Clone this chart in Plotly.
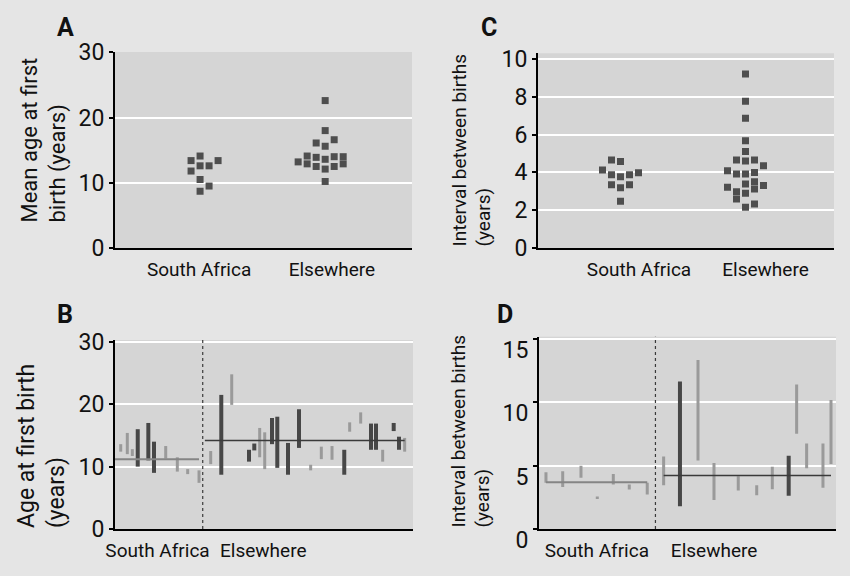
import plotly.graph_objects as go

W, H = 850, 576
PAGE_BG = "#e5e5e5"
PLOT_BG = "#d5d5d5"
DARK = "#474747"
LIGHT = "#9a9a9a"
MARK = "#4e4e4e"
FONT = "Roboto, Liberation Sans, Arial, sans-serif"

# ---------------- data ----------------
categories = ["South Africa", "Elsewhere"]

# Panel A: mean age at first birth (years), swarm columns
a_sa_values = [14.1, 13.4, 13.4, 12.6, 12.6, 11.8, 10.5, 9.5, 8.7]
a_sa_cols = [0, -1, 2, 0, 1, -1, 0, 1, 0]
a_else_values = [22.6, 18.0, 16.1, 16.6, 15.6, 13.2, 14.1, 12.9, 13.9, 12.5,
                 13.6, 12.1, 14.0, 12.5, 14.0, 12.9, 10.2]
a_else_cols = [0, 0, -1, 1, 0, -3, -2, -2, -1, -1, 0, 0, 1, 1, 2, 2, 0]

# Panel C: interval between births (years)
c_sa_values = [4.66, 4.57, 4.13, 3.88, 3.77, 3.88, 3.98, 3.35, 3.19, 3.35, 2.47]
c_sa_cols = [-1, 0, -2, -1, 0, 1, 2, -1, 0, 1, 0]
c_else_values = [9.2, 7.76, 6.86, 5.68, 5.10, 4.66, 4.60, 4.66, 4.35, 4.09,
                 3.92, 3.92, 4.0, 3.51, 3.39, 3.30, 3.21, 2.98, 2.89, 3.12,
                 2.59, 2.33, 2.15]
c_else_cols = [0, 0, 0, 0, 0, -1, 0, 1, 2, -2, -1, 0, 1, 1, 0, 2, -2, -1, 0, 1,
               -1, 1, 0]

# Panel B: age at first birth ranges per study
b_sa_study = [0.0, 1.23, 2.17, 3.18, 5.16, 6.22, 8.41, 10.58, 12.52, 14.64]
b_sa_low = [12.4, 12.0, 11.7, 10.0, 11.0, 9.0, 11.3, 9.2, 8.8, 7.4]
b_sa_high = [13.6, 15.4, 12.8, 16.0, 17.0, 14.0, 13.3, 11.5, 9.6, 9.4]
b_sa_shade = ["l", "l", "l", "d", "d", "d", "l", "l", "l", "l"]
b_sa_mean = 11.2
b_else_study = [16.82, 18.8, 20.75, 23.98, 24.97, 25.98, 26.92, 28.28, 29.27,
                31.27, 33.33, 35.51, 37.5, 39.5, 41.79, 42.8, 44.86, 46.79,
                47.72, 48.97, 51.03, 52.02, 53.08]
b_else_low = [10.4, 8.7, 19.9, 10.8, 12.6, 11.5, 9.6, 13.6, 9.8, 8.7, 13.0, 9.4,
              11.2, 11.1, 8.7, 15.6, 16.9, 12.7, 12.7, 10.8, 15.7, 12.7, 12.4]
b_else_high = [12.5, 21.5, 24.8, 12.7, 13.7, 16.2, 15.5, 17.8, 18.0, 13.8, 19.2,
               10.3, 13.2, 13.3, 12.7, 17.1, 18.7, 16.9, 16.9, 12.7, 17.0, 14.8,
               14.6]
b_else_shade = ["l", "d", "l", "d", "d", "l", "l", "d", "d", "d", "d", "l", "l",
                "l", "d", "l", "l", "d", "d", "l", "d", "d", "l"]
b_else_mean = 14.2

# Panel D: interval between births ranges per study
d_sa_study = [0.0, 2.04, 4.27, 6.26, 8.21, 10.16, 12.35]
d_sa_low = [3.65, 3.32, 4.04, 2.36, 3.52, 3.11, 2.72]
d_sa_high = [4.48, 4.56, 5.0, 2.56, 4.35, 3.52, 3.65]
d_sa_shade = ["l"] * 7
d_sa_mean = 3.70
d_else_study = [14.35, 16.34, 18.54, 20.49, 23.45, 25.70, 27.60, 29.60, 30.57,
                31.79, 33.78, 34.76]
d_else_low = [3.45, 1.8, 5.4, 2.28, 3.03, 2.67, 3.13, 2.62, 7.51, 4.79, 3.26, 5.13]
d_else_high = [5.73, 11.65, 13.35, 5.21, 4.17, 3.45, 4.92, 5.78, 11.4, 6.74, 6.74, 10.18]
d_else_shade = ["l", "d", "l", "l", "l", "l", "l", "d", "l", "l", "l", "l"]
d_else_mean = 4.22

COL_STEP = 0.072  # swarm column spacing (category units)


def dom_x(x0, x1):
    return [x0 / W, x1 / W]


def dom_y(top, bottom):
    return [1 - bottom / H, 1 - top / H]


fig = go.Figure()


def swarm(values, cols, center, ax):
    xs = [center + c * COL_STEP for c in cols]
    fig.add_trace(go.Scatter(
        x=xs, y=values, mode="markers", xaxis=f"x{ax}", yaxis=f"y{ax}",
        marker=dict(symbol="square", size=7, color=MARK, line=dict(width=0)),
        showlegend=False, hoverinfo="skip"))


swarm(a_sa_values, a_sa_cols, 1, "")
swarm(a_else_values, a_else_cols, 2, "")
swarm(c_sa_values, c_sa_cols, 1, "2")
swarm(c_else_values, c_else_cols, 2, "2")


def ranges(study, low, high, shade, ax, wd, wl):
    for s, color, w in (("l", LIGHT, wl), ("d", DARK, wd)):
        xs, ys = [], []
        for x, lo, hi, sh in zip(study, low, high, shade):
            if sh == s:
                xs += [x, x, None]
                ys += [lo, hi, None]
        if xs:
            fig.add_trace(go.Scatter(
                x=xs, y=ys, mode="lines", xaxis=f"x{ax}", yaxis=f"y{ax}",
                line=dict(color=color, width=w), showlegend=False,
                hoverinfo="skip"))


def hline(x0, x1, y, ax, color, w):
    fig.add_trace(go.Scatter(
        x=[x0, x1], y=[y, y], mode="lines", xaxis=f"x{ax}", yaxis=f"y{ax}",
        line=dict(color=color, width=w), showlegend=False, hoverinfo="skip"))


B_RANGE = [-1.07, 54.64]
D_RANGE = [-0.85, 35.37]

b_div = (b_sa_study[-1] + b_else_study[0]) / 2 - 0.4
d_div = (d_sa_study[-1] + d_else_study[0]) / 2

ranges(b_sa_study, b_sa_low, b_sa_high, b_sa_shade, "3", 4, 3)
ranges(b_else_study, b_else_low, b_else_high, b_else_shade, "3", 4, 3)
hline(B_RANGE[0], b_sa_study[-1], b_sa_mean, "3", "#858585", 2)
hline(b_div + 0.4, b_else_study[-1], b_else_mean, "3", "#3a3a3a", 1.5)

ranges(d_sa_study, d_sa_low, d_sa_high, d_sa_shade, "4", 4, 3)
ranges(d_else_study, d_else_low, d_else_high, d_else_shade, "4", 4, 3)
hline(d_sa_study[0], d_sa_study[-1], d_sa_mean, "4", "#858585", 2)
hline(d_else_study[0], d_else_study[-1], d_else_mean, "4", "#3a3a3a", 1.5)

for ax, xd in (("3", b_div), ("4", d_div)):
    fig.add_shape(type="line", xref=f"x{ax}", yref=f"y{ax} domain",
                  x0=xd, x1=xd, y0=0, y1=1,
                  line=dict(color="#3a3a3a", width=1.2, dash="dot"))

ytickfont = dict(family=FONT, size=23, color="#111")
xtickfont = dict(family=FONT, size=19, color="#111")


def yax(dom, rng, dtick, anchor, shift=0):
    d = dict(domain=dom, range=rng, dtick=dtick, tick0=0, showline=True,
             linecolor="black", linewidth=2, ticks="outside", ticklen=4,
             tickwidth=1.5, tickcolor="black", showgrid=True,
             gridcolor="white", gridwidth=2, zeroline=False,
             tickfont=ytickfont, fixedrange=True, automargin=False,
             anchor=anchor)
    if shift:
        d["ticklabelshift"] = shift
    return d


def xax(dom, rng, tickvals, anchor):
    return dict(domain=dom, range=rng, tickvals=tickvals, ticktext=categories,
                showline=True, linecolor="black", linewidth=2, ticks="",
                tickangle=0, showgrid=False, zeroline=False,
                tickfont=xtickfont, anchor=anchor, fixedrange=True,
                automargin=False, ticklabelstandoff=3)


fig.update_layout(
    template="none",
    width=W, height=H, margin=dict(l=0, r=0, t=0, b=0, pad=0),
    paper_bgcolor=PAGE_BG, plot_bgcolor=PLOT_BG, showlegend=False,
    font=dict(family=FONT, color="#111"),
    xaxis=xax(dom_x(115, 412), [0.32, 2.694], [0.992, 2.054], "y"),
    yaxis=yax(dom_y(52, 248), [0, 30.05], 10, "x"),
    xaxis2=xax(dom_x(538, 834), [0.34, 2.708], [1.148, 2.16], "y2"),
    yaxis2=yax(dom_y(53.3, 248), [0, 10.3], 2, "x2"),
    xaxis3=xax(dom_x(115, 413), B_RANGE, [6.88, 26.65], "y3"),
    yaxis3=yax(dom_y(340, 529), [0, 30.3], 10, "x3"),
    xaxis4=xax(dom_x(539, 836), D_RANGE, [6.2, 20.5], "y4"),
    yaxis4=yax(dom_y(336.7, 529), [0, 15.18], 5, "x4", shift=11),
)


def ytitle(text, xc, ybottom, size):
    fig.add_annotation(text=text, x=xc / W, y=1 - ybottom / H, xref="paper",
                       yref="paper", textangle=-90, xanchor="center",
                       yanchor="bottom", align="left", showarrow=False,
                       font=dict(family=FONT, size=size, color="#111"))


ytitle("Mean age at first<br>birth (years)", 44, 225, 22)
ytitle("Interval between births<br>(years)", 471, 248, 19)
ytitle("Age at first birth<br>(years)", 41, 530, 23)
ytitle("Interval between births<br>(years)", 470, 530, 19)

for letter, x, y in (("A", 65, 27), ("C", 489, 27), ("B", 65, 314), ("D", 505, 314)):
    fig.add_annotation(text=f"<b>{letter}</b>", x=x / W, y=1 - y / H,
                       xref="paper", yref="paper", xanchor="center",
                       yanchor="middle", showarrow=False,
                       font=dict(family=FONT, size=25, color="#111"))

fig.write_html(
    "out.html",
    config={"displayModeBar": False},
    post_script="document.body.style.margin='0px';"
                "document.body.style.background='" + PAGE_BG + "';",
)
